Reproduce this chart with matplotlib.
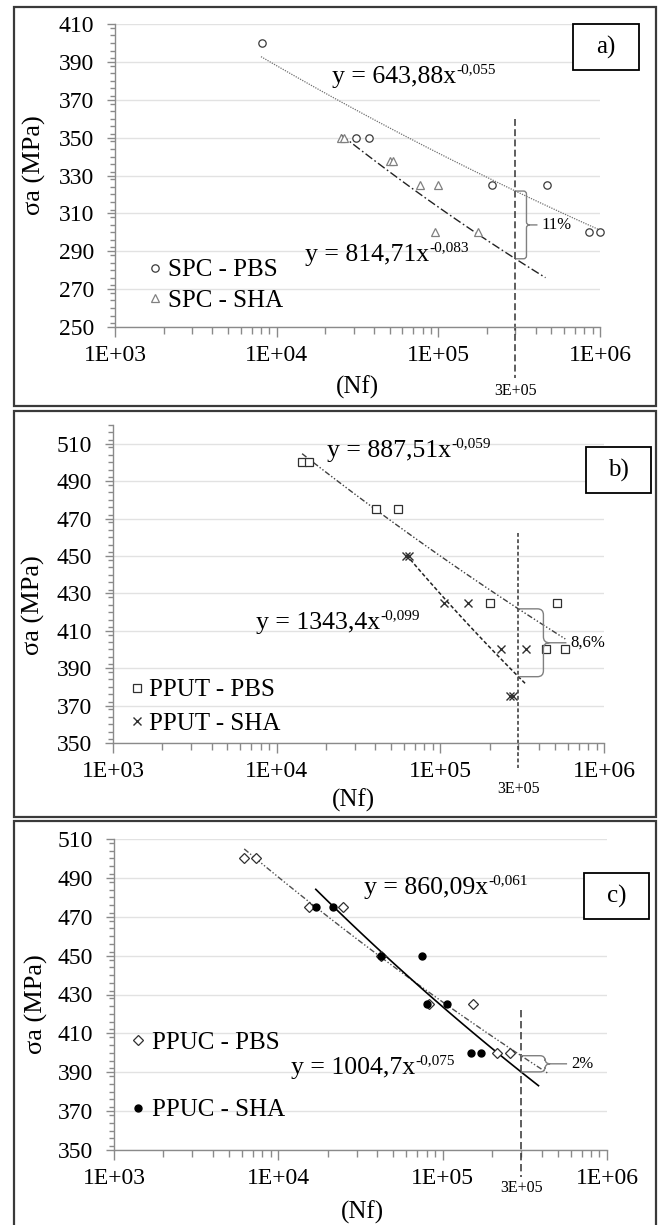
import numpy as np
import matplotlib
matplotlib.use("Agg")
import matplotlib.pyplot as plt
import matplotlib.ticker as mtick
from matplotlib.path import Path
from matplotlib.patches import PathPatch, Rectangle
from matplotlib.transforms import IdentityTransform

plt.rcParams["font.family"] = ["Liberation Serif", "DejaVu Serif"]

# -----------------------------------------------------------
# Data
# -----------------------------------------------------------

# a) SPC
a_pbs_n = [8.1e3, 3.1e4, 3.7e4, 2.15e5, 4.7e5, 8.6e5, 1.0e6]
a_pbs_s = [400, 350, 350, 325, 325, 300, 300]
a_sha_n = [2.5e4, 2.6e4, 5.0e4, 5.25e4, 7.7e4, 9.9e4, 9.6e4, 1.75e5]
a_sha_s = [350, 350, 337.5, 337.5, 325, 325, 300, 300]

# b) PPUT
b_pbs_n = [1.43e4, 1.58e4, 4.07e4, 5.5e4, 2.0e5, 5.15e5, 4.45e5, 5.75e5]
b_pbs_s = [500, 500, 475, 475, 425, 425, 400, 400]
b_sha_n = [6.2e4, 6.4e4, 1.05e5, 1.47e5, 2.36e5, 3.35e5, 2.68e5, 2.78e5]
b_sha_s = [450, 450, 425, 425, 400, 400, 375, 375]

# c) PPUC
c_pbs_n = [6.2e3, 7.3e3, 1.53e4, 2.48e4, 4.2e4, 8.3e4, 1.52e5, 2.14e5, 2.58e5]
c_pbs_s = [500, 500, 475, 475, 450, 425, 425, 400, 400]
c_sha_n = [1.69e4, 2.14e4, 4.2e4, 7.5e4, 8.0e4, 1.06e5, 1.49e5, 1.72e5]
c_sha_s = [475, 475, 450, 450, 425, 425, 400, 400]

# power-law fits y = A * x^b  (coefficients as printed), and drawn N range
fit_a_pbs = (643.88, -0.055, [8.0e3, 1.0e6])
fit_a_sha = (814.71, -0.083, [2.5e4, 4.6e5])
fit_b_pbs = (887.51, -0.059, [1.43e4, 5.8e5])
fit_b_sha = (1343.4, -0.099, [6.2e4, 3.3e5])
fit_c_pbs = (860.09, -0.061, [6.2e3, 4.4e5])
fit_c_sha = (1004.7, -0.075, [1.69e4, 3.83e5])

eq_a = ["y = 643,88x", "-0,055", "y = 814,71x", "-0,083"]
eq_b = ["y = 887,51x", "-0,059", "y = 1343,4x", "-0,099"]
eq_c = ["y = 860,09x", "-0,061", "y = 1004,7x", "-0,075"]

labels_a = ["SPC - PBS", "SPC - SHA"]
labels_b = ["PPUT - PBS", "PPUT - SHA"]
labels_c = ["PPUC - PBS", "PPUC - SHA"]

gap_labels = ["11%", "8,6%", "2%"]
panel_tags = ["a)", "b)", "c)"]

n_ref = 3e5
xlim = (1e3, 1e6)
ylim_a = (250, 410)
ylim_b = (350, 520)
ylim_c = (350, 510)

# -----------------------------------------------------------
# Figure
# -----------------------------------------------------------

W, H = 659, 1225
fig = plt.figure(figsize=(W / 100, H / 100), dpi=100)


def px_rect(x0, y0, x1, y1):
    # pixel box (top-left origin) -> figure fraction rect
    return [x0 / W, 1 - y1 / H, (x1 - x0) / W, (y1 - y0) / H]


# outer panel frames
for y0, y1 in [(7, 406), (411, 817), (821, 1232)]:
    l, b, w, h = px_rect(14, y0, 656, y1)
    fig.add_artist(Rectangle((l, b), w, h, transform=fig.transFigure,
                             fill=False, ec="#3a3a3a", lw=1.6))

ax_a = fig.add_axes(px_rect(115, 24, 600, 327))
ax_b = fig.add_axes(px_rect(113, 425, 604, 743))
ax_c = fig.add_axes(px_rect(114, 839, 607, 1150))


def setup(ax, ylim):
    ax.set_xscale("log")
    ax.set_xlim(*xlim)
    ax.set_ylim(*ylim)
    ax.set_yticks(np.arange(ylim[0], ylim[1] + 1, 20))
    ax.yaxis.set_minor_locator(mtick.MultipleLocator(4))
    ax.xaxis.set_major_locator(mtick.LogLocator(10))
    ax.xaxis.set_minor_locator(mtick.LogLocator(10, subs=np.arange(2, 10)))
    ax.xaxis.set_minor_formatter(mtick.NullFormatter())
    ax.xaxis.set_major_formatter(
        mtick.FuncFormatter(lambda v, p: "1E+%02d" % round(np.log10(v))))
    for s in ["top", "right"]:
        ax.spines[s].set_visible(False)
    for s in ["left", "bottom"]:
        ax.spines[s].set_color("#8a8a8a")
        ax.spines[s].set_linewidth(1.0)
    ax.yaxis.grid(True, which="major", color="#e2e2e2", lw=1.0)
    ax.set_axisbelow(True)
    ax.tick_params(axis="y", which="major", length=6, width=1, color="#8a8a8a",
                   labelsize=17, pad=9)
    ax.tick_params(axis="y", which="minor", length=3.5, width=1, color="#8a8a8a")
    ax.tick_params(axis="x", which="major", length=7, width=1, color="#8a8a8a",
                   labelsize=17, pad=6)
    ax.tick_params(axis="x", which="minor", length=5, width=1, color="#8a8a8a")


def power_fit(ax, fit, **kw):
    A, b, rng = fit
    n = np.geomspace(rng[0], rng[1], 100)
    ax.plot(n, A * n ** b, **kw)


def equation(ax, x, y, main, sup):
    t = ax.text(x, y, main, transform=ax.transAxes, fontsize=18.5, va="center")
    ax.annotate(sup, xy=(1.0, 0.84), xycoords=t, fontsize=11, va="center", ha="left")


def brace(ax, fit_top, fit_bot, arm, tip, r, label):
    A1, b1, _ = fit_top
    A2, b2, _ = fit_bot
    x0, yt = ax.transData.transform((n_ref, A1 * n_ref ** b1))
    _, yb = ax.transData.transform((n_ref, A2 * n_ref ** b2))
    ym = (yt + yb) / 2
    xa = x0 + arm
    xt = xa + tip
    verts = [(x0, yt), (xa - r, yt), (xa, yt), (xa, yt - r), (xa, ym + r),
             (xa, ym), (xa + r, ym), (xt, ym),
             (xa + r, ym), (xa, ym), (xa, ym - r), (xa, yb + r),
             (xa, yb), (xa - r, yb), (x0, yb)]
    codes = [Path.MOVETO, Path.LINETO, Path.CURVE3, Path.CURVE3, Path.LINETO,
             Path.CURVE3, Path.CURVE3, Path.LINETO,
             Path.MOVETO, Path.CURVE3, Path.CURVE3, Path.LINETO,
             Path.CURVE3, Path.CURVE3, Path.LINETO]
    fig.add_artist(PathPatch(Path(verts, codes), transform=IdentityTransform(),
                             fill=False, ec="#808080", lw=1.0))
    fig.text((xt + 4) / W, ym / H, label, fontsize=12, va="center", ha="left")


def ref_line(ax, y_top, y_bottom, dashes, label_y):
    ax.plot([n_ref, n_ref], [y_top, y_bottom], color="#333333", lw=1.1,
            linestyle=(0, dashes), clip_on=False)
    ax.text(n_ref, label_y, "3E+05", transform=ax.get_xaxis_transform(),
            fontsize=11.5, ha="center", va="center")


def tag_box(x0, y0, x1, y1, txt):
    l, b, w, h = px_rect(x0, y0, x1, y1)
    fig.add_artist(Rectangle((l, b), w, h, transform=fig.transFigure,
                             fc="white", ec="black", lw=1.3, zorder=5))
    fig.text(l + w / 2, b + h / 2, txt, fontsize=18, ha="center", va="center", zorder=6)


for ax, yl in [(ax_a, ylim_a), (ax_b, ylim_b), (ax_c, ylim_c)]:
    setup(ax, yl)
    ax.set_xlabel("(Nf)", fontsize=18)
    ax.set_ylabel("σa (MPa)", fontsize=19)
    ax.yaxis.label.set_va("center")
    ax.xaxis.label.set_va("center")

# ---------------- a) ----------------
power_fit(ax_a, fit_a_pbs, color="#707070", lw=0.9, linestyle=(0, (1, 1)))
power_fit(ax_a, fit_a_sha, color="#222222", lw=1.0, linestyle=(0, (6, 2, 1.2, 2)))
ax_a.plot(a_pbs_n, a_pbs_s, "o", ms=5.3, mfc="white", mec="#3a3a3a", mew=0.9,
          label=labels_a[0], clip_on=False)
ax_a.plot(a_sha_n, a_sha_s, "^", ms=6, mfc="white", mec="#808080", mew=0.9,
          label=labels_a[1])
ref_line(ax_a, 360, 223, (4.5, 2.2), -0.21)
equation(ax_a, 0.447, 0.826, eq_a[0], eq_a[1])
equation(ax_a, 0.392, 0.237, eq_a[2], eq_a[3])
ax_a.legend(loc="center left", bbox_to_anchor=(0.068, 0.137), frameon=False,
            fontsize=18, handlelength=0.6, handletextpad=0.2, borderpad=0,
            borderaxespad=0, labelspacing=0.32)
ax_a.xaxis.set_label_coords(0.5, -0.198)
ax_a.yaxis.set_label_coords(-0.167, 0.535)

# ---------------- b) ----------------
power_fit(ax_b, fit_b_pbs, color="#404040", lw=1.0,
          linestyle=(0, (4, 1.5, 1, 1.5, 1, 1.5)))
power_fit(ax_b, fit_b_sha, color="#222222", lw=1.1, linestyle=(0, (2.5, 1.5)))
ax_b.plot(b_pbs_n, b_pbs_s, "s", ms=5.3, mfc="white", mec="#303030", mew=0.9,
          label=labels_b[0])
ax_b.plot(b_sha_n, b_sha_s, "x", ms=6.3, mec="#303030", mew=1.0, label=labels_b[1])
ref_line(ax_b, 462, 336.6, (2.5, 1.6), -0.145)
equation(ax_b, 0.436, 0.918, eq_b[0], eq_b[1])
equation(ax_b, 0.292, 0.378, eq_b[2], eq_b[3])
ax_b.legend(loc="center left", bbox_to_anchor=(0.033, 0.113), frameon=False,
            fontsize=18, handlelength=0.6, handletextpad=0.2, borderpad=0,
            borderaxespad=0, labelspacing=0.45)
ax_b.xaxis.set_label_coords(0.49, -0.179)
ax_b.yaxis.set_label_coords(-0.161, 0.434)

# ---------------- c) ----------------
power_fit(ax_c, fit_c_pbs, color="#505050", lw=1.0,
          linestyle=(0, (4, 1.5, 1, 1.5, 1, 1.5)))
power_fit(ax_c, fit_c_sha, color="black", lw=1.2)
ax_c.plot(c_pbs_n, c_pbs_s, "D", ms=5, mfc="white", mec="#303030", mew=0.9,
          label=labels_c[0])
ax_c.plot(c_sha_n, c_sha_s, "o", ms=5, mfc="black", mec="black", label=labels_c[1])
ref_line(ax_c, 422, 336, (4.8, 2.4), -0.122)
equation(ax_c, 0.507, 0.843, eq_c[0], eq_c[1])
equation(ax_c, 0.36, 0.264, eq_c[2], eq_c[3])
ax_c.legend(loc="center left", bbox_to_anchor=(0.034, 0.2365), frameon=False,
            fontsize=18, handlelength=0.6, handletextpad=0.25, borderpad=0,
            borderaxespad=0, labelspacing=1.8)
ax_c.xaxis.set_label_coords(0.503, -0.199)
ax_c.yaxis.set_label_coords(-0.158, 0.469)

# gap braces at N = 3E+05
brace(ax_a, fit_a_pbs, fit_a_sha, 11, 11, 3, gap_labels[0])
brace(ax_b, fit_b_pbs, fit_b_sha, 25, 23, 6, gap_labels[1])
brace(ax_c, fit_c_pbs, fit_c_sha, 24, 22, 5, gap_labels[2])

# panel tags
tag_box(573, 24, 639, 70, panel_tags[0])
tag_box(586, 447, 651, 493, panel_tags[1])
tag_box(584, 873, 649, 919, panel_tags[2])

fig.savefig("out.png", dpi=100)
